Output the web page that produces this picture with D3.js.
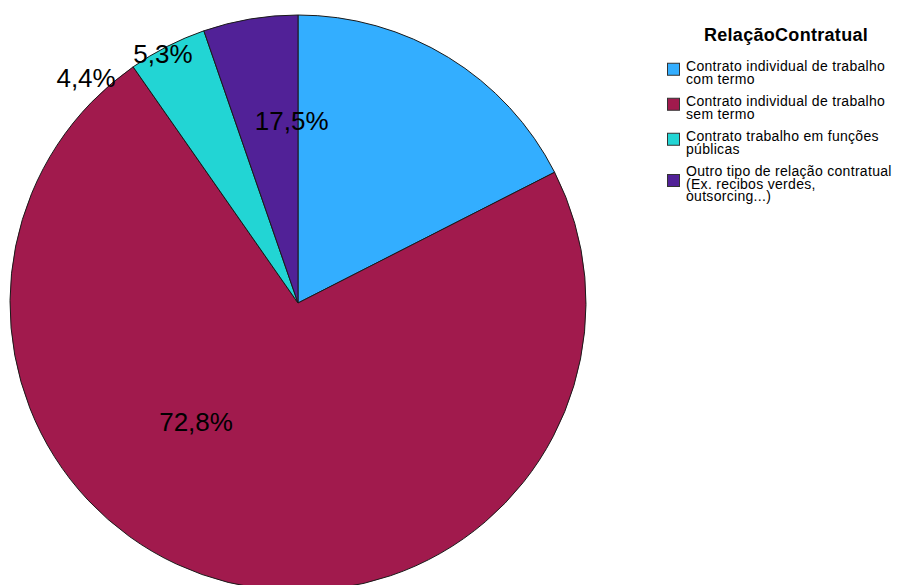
<!DOCTYPE html>
<html>
    <head>
        <meta charset="utf-8">
        <script src="https://d3js.org/d3.v7.min.js"></script>
        <style>
            body { margin: 0; background: #fff; }
        </style>
    </head>

    <body>
        <script>

        // data
        var categories = [
            "Contrato individual de trabalho com termo",
            "Contrato individual de trabalho sem termo",
            "Contrato trabalho em funções públicas",
            "Outro tipo de relação contratual (Ex. recibos verdes, outsorcing...)"
        ];
        var legendLines = [
            ["Contrato individual de trabalho", "com termo"],
            ["Contrato individual de trabalho", "sem termo"],
            ["Contrato trabalho em funções", "públicas"],
            ["Outro tipo de relação contratual", "(Ex. recibos verdes,", "outsorcing...)"]
        ];
        var percents = [17.5, 72.8, 4.4, 5.3];
        var colors = ["#33aeff", "#a11a4d", "#22d5d4", "#512197"];
        var legendTitle = "RelaçãoContratual";

        // where the reference puts each label (angle in degrees from 12 o'clock, share of radius)
        var labelAngle = [358, 220.6, 316.7, 331.5];
        var labelRadius = [0.632, 0.544, 1.073, 0.983];

        var width = 903,
            height = 585,
            cx = 298,
            cy = 303,
            radius = 288;

        var svg = d3.select("body").append("svg")
            .attr("width", width)
            .attr("height", height);

        var pie = d3.pie()
            .sort(null)
            .value(function(d) { return d; });

        var arc = d3.arc()
            .innerRadius(0)
            .outerRadius(radius);

        var g = svg.append("g")
            .attr("transform", "translate(" + cx + "," + cy + ")");

        g.selectAll("path")
            .data(pie(percents))
            .enter().append("path")
              .attr("d", arc)
              .attr("fill", function(d, i) { return colors[i]; })
              .attr("stroke", "#1a1a1a")
              .attr("stroke-width", 1);

        var fmt = function(v) { return d3.format(".1f")(v).replace(".", ",") + "%"; };

        g.selectAll("text.lbl")
            .data(percents)
            .enter().append("text")
              .attr("class", "lbl")
              .attr("x", function(d, i) { return Math.sin(labelAngle[i] * Math.PI / 180) * labelRadius[i] * radius; })
              .attr("y", function(d, i) { return -Math.cos(labelAngle[i] * Math.PI / 180) * labelRadius[i] * radius; })
              .attr("text-anchor", "middle")
              .attr("dominant-baseline", "central")
              .attr("font-family", "Liberation Sans, Arial, sans-serif")
              .attr("font-size", "26px")
              .attr("fill", "#000")
              .text(fmt);

        // legend
        var lg = svg.append("g")
            .attr("transform", "translate(667,0)");

        lg.append("text")
            .attr("x", 119)
            .attr("y", 41)
            .attr("text-anchor", "middle")
            .attr("font-family", "Liberation Sans, Arial, sans-serif")
            .attr("font-weight", "bold")
            .attr("font-size", "18px")
            .attr("letter-spacing", "0.3px")
            .attr("fill", "#000")
            .text(legendTitle);

        var lineH = 12.5,
            gap = 10,
            y0 = 71;

        var starts = [];
        var acc = y0;
        legendLines.forEach(function(lines) {
            starts.push(acc);
            acc += lines.length * lineH + gap;
        });

        var item = lg.selectAll("g.item")
            .data(legendLines)
            .enter().append("g")
              .attr("class", "item")
              .attr("transform", function(d, i) { return "translate(0," + starts[i] + ")"; });

        item.append("rect")
            .attr("x", 0.5)
            .attr("y", function(d) { return (d.length - 1) * lineH / 2 - 14; })
            .attr("width", 12)
            .attr("height", 12)
            .attr("fill", function(d, i) { return colors[i]; })
            .attr("stroke", "#333")
            .attr("stroke-width", 1);

        item.selectAll("text")
            .data(function(d) { return d; })
            .enter().append("text")
              .attr("x", 19)
              .attr("y", function(d, j) { return j * lineH; })
              .attr("font-family", "Liberation Sans, Arial, sans-serif")
              .attr("font-size", "14px")
              .attr("letter-spacing", "0.3px")
              .attr("fill", "#000")
              .text(function(d) { return d; });

        </script>
    </body>
</html>
